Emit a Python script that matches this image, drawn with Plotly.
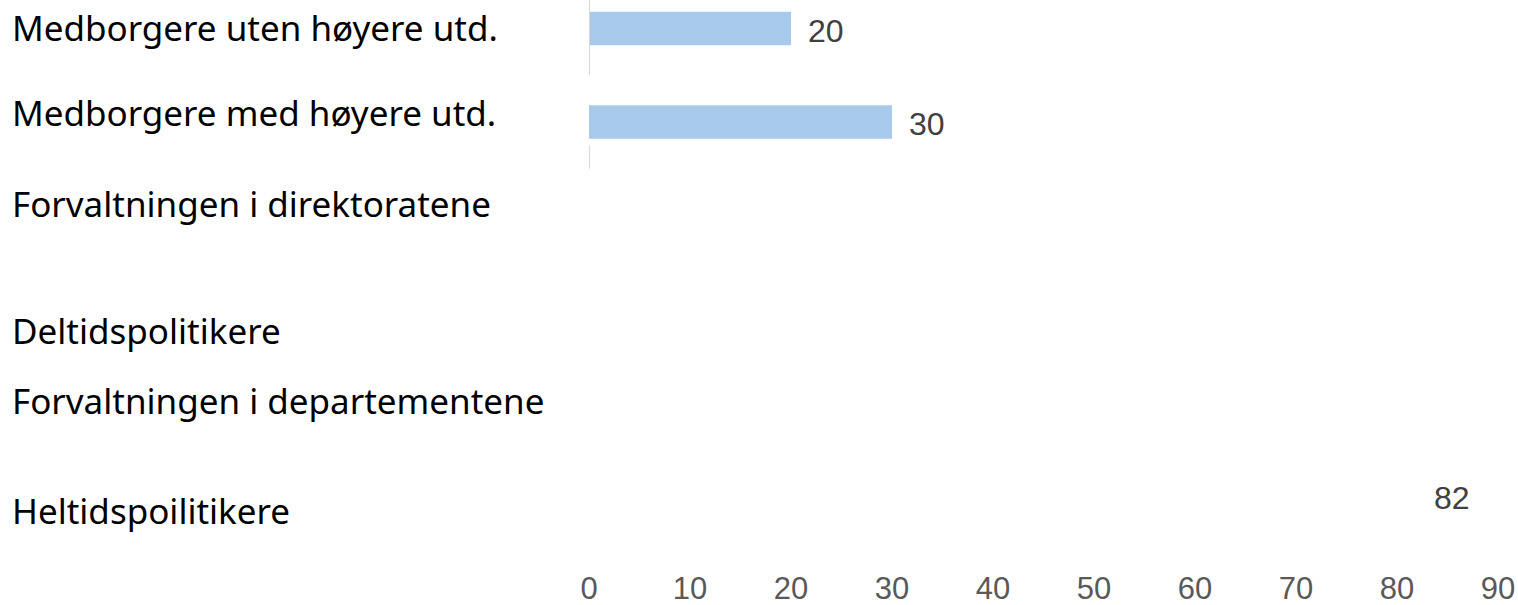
import plotly.graph_objects as go

# Respondent groups, top to bottom
categories = [
    "Medborgere uten høyere utd.",
    "Medborgere med høyere utd.",
    "Forvaltningen i direktoratene",
    "Deltidspolitikere",
    "Forvaltningen i departementene",
    "Heltidspoilitikere",
]
values = [20, 30, None, None, None, 82]
# which bars get their fill painted
bar_shown = [True, True, False, False, False, False]

# group label vertical positions (pixels from top of the page)
label_y_px = [28, 112, 204, 330, 400, 510]

# visible pieces of the value-axis baseline, in category units
baseline_segments = [(-0.31, 0.5), (1.25, 1.5)]

x_ticks = [0, 10, 20, 30, 40, 50, 60, 70, 80, 90]

W, H = 1518, 605
M_L, M_R, M_T, M_B = 589, 20, 0, 62
PLOT_W = W - M_L - M_R
PLOT_H = H - M_T - M_B
BAR_BLUE = "#a7caec"

fig = go.Figure()
fig.add_trace(go.Bar(
    y=list(range(len(categories))),
    x=values,
    orientation="h",
    width=0.36,
    marker=dict(
        color=[BAR_BLUE if s else "rgba(0,0,0,0)" for s in bar_shown],
        line=dict(width=0),
    ),
    hoverinfo="skip",
    showlegend=False,
))

# value labels just outside the bar ends
for i, v in enumerate(values):
    if v is None:
        continue
    fig.add_annotation(
        x=v, y=i, xref="x", yref="y",
        text=str(v), showarrow=False,
        xanchor="left", yanchor="middle", xshift=15, yshift=-2,
        font=dict(family="Liberation Sans, Arial, sans-serif", size=32, color="#404040"),
    )

# group labels on the left of the plot area
for name, ypx in zip(categories, label_y_px):
    fig.add_annotation(
        x=(10 - M_L) / PLOT_W, y=1 - (ypx - M_T) / PLOT_H,
        xref="paper", yref="paper",
        text=name, showarrow=False, xanchor="left", yanchor="middle",
        font=dict(family="Noto Sans, sans-serif", size=35, color="#000000"),
    )

# baseline pieces
for y0, y1 in baseline_segments:
    fig.add_shape(type="line", xref="x", yref="y", x0=0, x1=0, y0=y0, y1=y1,
                  line=dict(color="#d9d9d9", width=2))

fig.update_layout(
    width=W, height=H,
    margin=dict(l=M_L, r=M_R, t=M_T, b=M_B),
    paper_bgcolor="white", plot_bgcolor="white",
    xaxis=dict(
        range=[0, 90], tickvals=x_ticks, showgrid=False, zeroline=False,
        showline=False, ticks="", ticklabelstandoff=24,
        tickfont=dict(family="Liberation Sans, Arial, sans-serif", size=31, color="#595959"),
    ),
    yaxis=dict(
        range=[5.503, -0.305], showgrid=False, zeroline=False, showline=False,
        showticklabels=False, ticks="",
    ),
)

fig.write_html("out.html")
